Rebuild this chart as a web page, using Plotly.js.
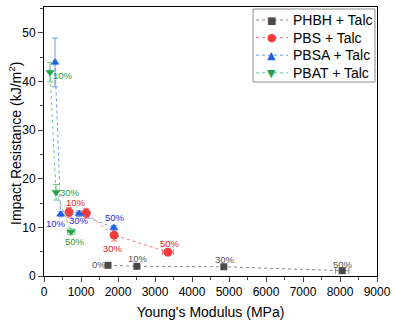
<!DOCTYPE html>
<html><head><meta charset="utf-8">
<script src="https://cdn.plot.ly/plotly-3.0.1.min.js"></script>
<style>body{margin:0;background:#fff}#c{width:394px;height:320px}</style>
</head><body><div id="c"></div>
<script>
const seriesNames = ["PHBH + Talc", "PBS + Talc", "PBSA + Talc", "PBAT + Talc"];
const phbhX = [1730, 2510, 4860, 8060];
const phbhY = [2.2, 2.0, 1.9, 1.1];
const phbhXErr = [40, 60, 60, 180];
const phbhYErr = [0.2, 0.2, 0.2, 0.3];
const pbsX = [677, 1140, 1897, 3350];
const pbsY = [13.1, 12.9, 8.4, 4.9];
const pbsXErr = [50, 50, 40, 150];
const pbsYErr = [1.0, 1.0, 1.2, 0.4];
const pbsaX = [298, 452, 949, 1888];
const pbsaY = [43.9, 12.7, 12.8, 9.9];
const pbsaXErr = [30, 30, 60, 30];
const pbsaYErr = [5.0, 0.5, 0.6, 0.5];
const pbatX = [163, 325, 732];
const pbatY = [41.9, 17.2, 9.1];
const pbatXErr = [20, 30, 100];
const pbatYErr = [2.0, 1.6, 0.6];

const labelText = ["0%","10%","30%","50%","10%","30%","50%","10%","30%","50%","10%","30%","50%"];
const labelX = [1490, 2528, 4887, 8084, 867, 1862, 3396, 325, 949, 1924, 507, 705, 840];
const labelY = [2.4, 3.6, 3.4, 2.3, 15.1, 5.7, 6.7, 10.8, 11.4, 12.0, 41.3, 17.1, 7.1];
const labelSeries = [0,0,0,0,1,1,1,2,2,2,3,3,3];

const colors = ["#4a4a4a", "#f23c3c", "#1f5fe6", "#22a447"];
const lineColors = ["#8a8a8a", "#f47a7a", "#6b96f0", "#6cc987"];
const textColors = ["#555555", "#e82020", "#2a2ae0", "#2a9a30"];
const symbols = ["square", "circle", "triangle-up", "triangle-down"];
const markerSizes = [7, 9, 8, 8];
const legendGlyphs = ["\u25A0", "\u25CF", "\u25B2", "\u25BC"];

function tr(i, x, y, xe, ye) {
  return {
    x: x, y: y, name: seriesNames[i], type: "scatter", mode: "lines+markers",
    line: {color: lineColors[i], width: 1, dash: "dot"},
    marker: {color: colors[i], symbol: symbols[i], size: markerSizes[i]},
    error_x: {type: "data", array: xe, color: lineColors[i], thickness: 1, width: 3},
    error_y: {type: "data", array: ye, color: lineColors[i], thickness: 1, width: 3}
  };
}
const data = [
  tr(0, phbhX, phbhY, phbhXErr, phbhYErr),
  tr(1, pbsX, pbsY, pbsXErr, pbsYErr),
  tr(2, pbsaX, pbsaY, pbsaXErr, pbsaYErr),
  tr(3, pbatX, pbatY, pbatXErr, pbatYErr)
];
const annotations = labelText.map((t, k) => ({
  x: labelX[k], y: labelY[k], text: t, showarrow: false,
  font: {family: "Liberation Sans, Arial", size: 9.5, color: textColors[labelSeries[k]]}
}));

// custom legend and y title (paper coordinates derived from pixel layout of the plot area)
const PL = 44, PR = 377, PT = 7, PB = 276;
const px = v => (v - PL) / (PR - PL);
const py = v => (PB - v) / (PB - PT);
const shapes = [{type: "rect", xref: "paper", yref: "paper",
  x0: px(253), x1: px(375), y0: py(82), y1: py(9),
  line: {color: "#8c8c8c", width: 1}, fillcolor: "#fff"}];
seriesNames.forEach((n, i) => {
  const yy = 20 + i * 17.6;
  shapes.push({type: "line", xref: "paper", yref: "paper",
    x0: px(256), x1: px(288), y0: py(yy), y1: py(yy),
    line: {color: lineColors[i], width: 1, dash: "dot"}});
  annotations.push({xref: "paper", yref: "paper", x: px(271.5), y: py(yy + (i === 3 ? 1 : 0)),
    text: legendGlyphs[i], showarrow: false, xanchor: "center", yanchor: "middle",
    font: {family: "DejaVu Sans", size: i === 0 ? 10 : 11, color: colors[i]}});
  annotations.push({xref: "paper", yref: "paper", x: px(291), y: py(yy),
    text: n, showarrow: false, xanchor: "left", yanchor: "middle",
    font: {family: "Liberation Sans, Arial", size: 14, color: "#000"}});
});
annotations.push({xref: "paper", yref: "paper", x: px(15), y: py(144),
  text: "Impact Resistance (kJ/m<sup>2</sup>)", textangle: -90, showarrow: false,
  xanchor: "center", yanchor: "middle",
  font: {family: "Liberation Sans, Arial", size: 14, color: "#000"}});

const font = {family: "Liberation Sans, Arial, sans-serif", size: 12, color: "#000"};
const layout = {
  width: 394, height: 320,
  margin: {l: PL, r: 394 - PR, t: PT, b: 320 - PB},
  paper_bgcolor: "#fff", plot_bgcolor: "#fff",
  font: font,
  showlegend: false,
  xaxis: {range: [0, 9000], dtick: 1000, ticks: "outside", ticklen: 5,
    showline: true, linecolor: "#000", linewidth: 1, mirror: true,
    showgrid: false, zeroline: false,
    minor: {dtick: 500, ticks: "outside", ticklen: 3, showgrid: false},
    title: {text: "Young's Modulus (MPa)", font: {family: "Liberation Sans, Arial", size: 14}, standoff: 9}},
  yaxis: {range: [0, 55.3], dtick: 10, ticks: "outside", ticklen: 5,
    showline: true, linecolor: "#000", linewidth: 1, mirror: true,
    showgrid: false, zeroline: false,
    minor: {dtick: 5, ticks: "outside", ticklen: 3, showgrid: false}},
  shapes: shapes,
  annotations: annotations
};
Plotly.newPlot("c", data, layout, {displayModeBar: false, staticPlot: true});
</script></body></html>
